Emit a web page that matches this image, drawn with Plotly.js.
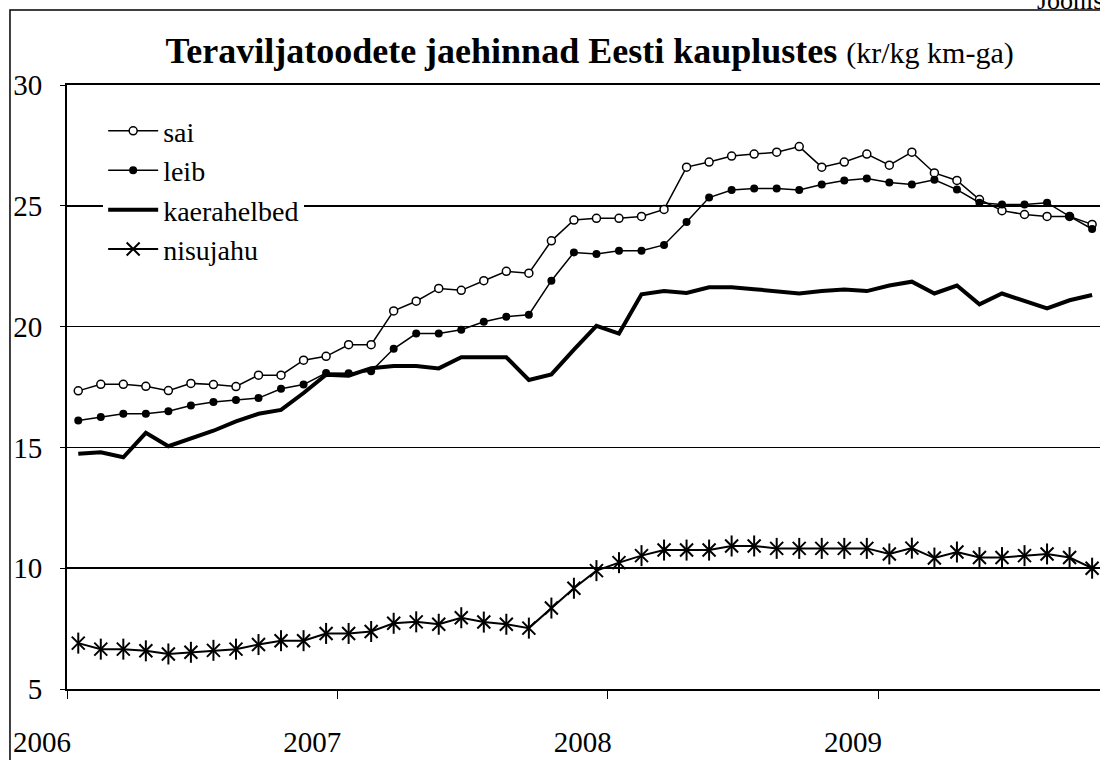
<!DOCTYPE html>
<html>
<head>
<meta charset="utf-8">
<script src="https://cdn.plot.ly/plotly-3.0.1.min.js"></script>
<style>html,body{margin:0;padding:0;background:#fff;}#chart{width:1100px;height:760px;}</style>
</head>
<body>
<div id="chart"></div>
<script>
const months = ["2006-01","2006-02","2006-03","2006-04","2006-05","2006-06","2006-07","2006-08","2006-09","2006-10","2006-11","2006-12",
"2007-01","2007-02","2007-03","2007-04","2007-05","2007-06","2007-07","2007-08","2007-09","2007-10","2007-11","2007-12",
"2008-01","2008-02","2008-03","2008-04","2008-05","2008-06","2008-07","2008-08","2008-09","2008-10","2008-11","2008-12",
"2009-01","2009-02","2009-03","2009-04","2009-05","2009-06","2009-07","2009-08","2009-09","2009-10"];
const sai = [17.34,17.61,17.61,17.53,17.35,17.65,17.60,17.52,17.99,17.99,18.61,18.77,
19.25,19.25,20.65,21.05,21.58,21.50,21.90,22.29,22.21,23.55,24.41,24.48,
24.48,24.56,24.85,26.60,26.81,27.06,27.14,27.22,27.45,26.60,26.81,27.14,
26.68,27.22,26.36,26.05,25.26,24.80,24.64,24.56,24.56,24.23];
const leib = [16.11,16.26,16.39,16.39,16.50,16.73,16.88,16.96,17.04,17.43,17.60,18.08,
18.07,18.15,19.08,19.71,19.71,19.87,20.20,20.41,20.49,21.90,23.07,23.01,
23.14,23.14,23.38,24.33,25.34,25.65,25.72,25.72,25.65,25.88,26.05,26.13,
25.96,25.88,26.08,25.67,25.13,25.05,25.05,25.13,24.56,24.04];
const kaerahelbed = [14.74,14.80,14.59,15.60,15.05,15.38,15.69,16.08,16.39,16.55,17.25,18.01,
17.97,18.28,18.37,18.37,18.27,18.73,18.73,18.73,17.79,18.02,19.05,20.03,
19.71,21.34,21.47,21.39,21.63,21.63,21.55,21.47,21.37,21.47,21.54,21.47,
21.70,21.86,21.37,21.70,20.92,21.37,21.06,20.75,21.09,21.31];
const nisujahu = [6.90,6.65,6.65,6.58,6.45,6.52,6.60,6.65,6.84,7.00,7.00,7.30,
7.30,7.38,7.72,7.78,7.68,7.95,7.77,7.68,7.52,8.35,9.17,9.90,
10.23,10.52,10.75,10.75,10.75,10.92,10.92,10.82,10.82,10.82,10.82,10.82,
10.59,10.83,10.42,10.67,10.44,10.44,10.52,10.59,10.44,10.00];
const yearLabels = ["2006","2007","2008","2009"];
const yearStartIdx = [0,12,24,36];

const xi = months.map((m,i)=>i);
const FONT = "Liberation Serif";

const traces = [
  {x: xi, y: sai, text: months, name: "sai", legendgroup: "a", mode: "lines+markers",
   line: {color: "#000", width: 1.5},
   marker: {symbol: "circle", size: 8, color: "#fff", line: {color: "#000", width: 1.5}}},
  {x: xi, y: leib, text: months, name: "leib", legendgroup: "b", mode: "lines+markers",
   line: {color: "#000", width: 1.5},
   marker: {symbol: "circle", size: 8, color: "#000", line: {color: "#000", width: 0}}},
  {x: xi, y: kaerahelbed, text: months, name: "kaerahelbed", legendgroup: "c", mode: "lines",
   line: {color: "#000", width: 4}},
  {x: xi, y: nisujahu, text: months, name: "nisujahu", legendgroup: "d", mode: "lines+markers",
   line: {color: "#000", width: 2},
   marker: {symbol: "x-thin-open", size: 13, color: "#000", line: {color: "#000", width: 2}}},
  {x: xi, y: nisujahu, text: months, name: "nisujahu", legendgroup: "d", showlegend: false, mode: "markers",
   marker: {symbol: "line-ns-open", size: 15, color: "#000", line: {color: "#000", width: 2}}}
];

const layout = {
  width: 1100, height: 760,
  margin: {l: 67, r: 0, t: 85, b: 71},
  paper_bgcolor: "#fff", plot_bgcolor: "#fff",
  font: {family: FONT, color: "#000", size: 28},
  showlegend: true,
  title: {
    text: "<b>Teraviljatoodete jaehinnad Eesti kauplustes</b> <span style='font-size:30px'>(kr/kg km-ga)</span>",
    font: {family: FONT, size: 36, color: "#000"},
    x: 0.536, xanchor: "center", y: 0.934, yanchor: "middle"
  },
  xaxis: {
    range: [-0.5, 45.35],
    tickmode: "array",
    tickvals: yearStartIdx.map(v => v - 0.5),
    ticktext: yearLabels,
    ticks: "outside", ticklen: 8, tickwidth: 1, tickcolor: "#000",
    showgrid: false, zeroline: false,
    showline: true, linecolor: "#000", linewidth: 2, mirror: true,
    tickfont: {family: FONT, size: 29, color: "#000"},
    ticklabelshift: -25, ticklabelstandoff: 18
  },
  yaxis: {
    range: [5, 30],
    tickmode: "array", tickvals: [5,10,15,20,25,30],
    ticks: "outside", ticklen: 5, tickwidth: 1, tickcolor: "#000",
    showgrid: true, gridcolor: "#000", gridwidth: 1.5,
    zeroline: false,
    showline: true, linecolor: "#000", linewidth: 2,
    tickfont: {family: FONT, size: 29, color: "#000"},
    ticklabelstandoff: 12
  },
  legend: {
    x: 0.035, y: 0.965, xanchor: "left", yanchor: "top",
    bgcolor: "#fff", borderwidth: 0,
    font: {family: FONT, size: 28, color: "#000"},
    tracegroupgap: 0, itemwidth: 50
  },
  shapes: [
    {type: "rect", xref: "paper", yref: "paper",
     x0: -0.0552, x1: 1.05, y0: -0.2, y1: 1.1242,
     line: {color: "#000", width: 1.5}, fillcolor: "rgba(0,0,0,0)", layer: "below"}
  ],
  annotations: [
    {text: "Joonis", xref: "paper", yref: "paper", x: 0.937, y: 1.1407,
     xanchor: "left", yanchor: "middle", showarrow: false,
     font: {family: FONT, size: 26, color: "#000"}}
  ]
};

Plotly.newPlot("chart", traces, layout, {displayModeBar: false, staticPlot: true});
</script>
</body>
</html>
